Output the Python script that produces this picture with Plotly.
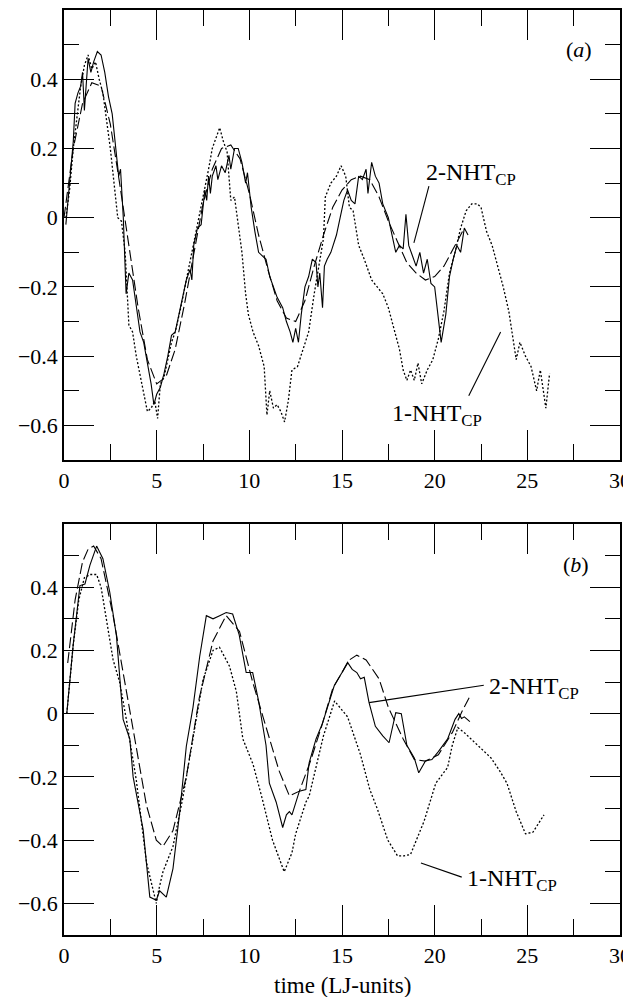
import plotly.graph_objects as go

# ---------------- panel (a) ----------------
a_solid_t = [0.1,0.3,0.5,0.6,0.75,0.9,1.0,1.1,1.3,1.45,1.6,1.8,2.0,2.2,2.4,2.6,2.8,2.95,3.05,3.2,3.35,3.5,3.7,3.9,4.1,4.3,4.5,4.7,4.85,5.0,5.2,5.4,5.6,5.8,6.0,6.2,6.4,6.6,6.8,6.9,7.0,7.2,7.4,7.6,7.7,7.8,7.9,8.0,8.2,8.3,8.5,8.7,8.9,9.0,9.2,9.4,9.6,9.8,9.9,10.1,10.3,10.5,10.7,10.9,11.1,11.3,11.5,11.8,12.0,12.2,12.35,12.5,12.65,12.8,13.0,13.2,13.4,13.6,13.7,13.8,13.95,14.05,14.2,14.4,14.7,14.9,15.1,15.3,15.5,15.7,15.9,16.1,16.3,16.4,16.6,16.8,17.0,17.2,17.5,17.7,17.9,18.1,18.3,18.45,18.6,18.8,19.0,19.2,19.4,19.6,19.8,20.0,20.2,20.35,20.6,20.8,21.0,21.2,21.4,21.6,21.8]
a_solid_v = [-0.02,0.1,0.22,0.33,0.36,0.38,0.42,0.31,0.46,0.42,0.45,0.48,0.47,0.42,0.35,0.3,0.2,0.12,0.14,0.0,-0.22,-0.16,-0.18,-0.26,-0.33,-0.36,-0.42,-0.48,-0.54,-0.51,-0.49,-0.45,-0.4,-0.34,-0.33,-0.28,-0.22,-0.18,-0.15,-0.18,-0.08,-0.03,-0.02,0.08,0.05,0.12,0.07,0.12,0.15,0.11,0.15,0.13,0.18,0.14,0.2,0.2,0.16,0.1,0.13,0.03,-0.04,-0.1,-0.11,-0.12,-0.17,-0.2,-0.23,-0.26,-0.3,-0.33,-0.36,-0.32,-0.36,-0.28,-0.2,-0.17,-0.12,-0.13,-0.2,-0.16,-0.26,-0.14,-0.12,-0.1,-0.05,0.0,0.05,0.08,0.05,0.04,0.12,0.11,0.14,0.07,0.16,0.12,0.1,0.04,0.0,-0.05,-0.1,-0.08,-0.09,0.01,-0.08,-0.11,-0.14,-0.1,-0.16,-0.12,-0.19,-0.2,-0.3,-0.36,-0.28,-0.17,-0.12,-0.08,-0.1,-0.03,-0.05]

a_dot_t = [0.1,0.3,0.5,0.7,0.9,1.1,1.3,1.5,1.7,1.9,2.1,2.3,2.5,2.7,2.9,3.1,3.3,3.5,3.7,3.9,4.1,4.3,4.5,4.7,4.9,5.05,5.2,5.4,5.6,5.8,6.0,6.3,6.6,6.9,7.2,7.5,7.8,8.0,8.2,8.4,8.6,8.8,9.0,9.2,9.4,9.6,9.8,9.95,10.2,10.5,10.8,10.95,11.1,11.3,11.5,11.7,11.9,12.1,12.3,12.6,12.9,13.2,13.5,13.8,14.0,14.1,14.4,14.7,14.95,15.2,15.4,15.6,15.9,16.2,16.6,16.9,17.2,17.5,17.8,18.1,18.3,18.5,18.7,18.9,19.1,19.3,19.6,19.9,20.2,20.5,20.8,21.1,21.4,21.7,22.0,22.3,22.5,22.8,23.1,23.4,23.7,24.0,24.2,24.4,24.6,24.9,25.2,25.5,25.7,26.0,26.2]
a_dot_v = [0.0,0.08,0.2,0.3,0.38,0.44,0.47,0.43,0.45,0.4,0.36,0.28,0.2,0.1,0.0,-0.01,-0.1,-0.31,-0.33,-0.4,-0.45,-0.5,-0.56,-0.55,-0.53,-0.58,-0.48,-0.46,-0.41,-0.36,-0.33,-0.26,-0.18,-0.1,-0.02,0.05,0.14,0.2,0.23,0.26,0.22,0.19,0.05,0.06,-0.02,-0.1,-0.22,-0.28,-0.33,-0.37,-0.43,-0.57,-0.5,-0.55,-0.54,-0.56,-0.59,-0.53,-0.44,-0.43,-0.38,-0.33,-0.22,-0.12,-0.06,0.06,0.1,0.12,0.15,0.12,0.03,0.02,-0.08,-0.12,-0.18,-0.2,-0.22,-0.26,-0.32,-0.38,-0.44,-0.47,-0.44,-0.47,-0.42,-0.48,-0.44,-0.41,-0.35,-0.27,-0.16,-0.1,-0.03,0.02,0.04,0.04,0.03,-0.04,-0.08,-0.14,-0.2,-0.27,-0.34,-0.41,-0.36,-0.4,-0.43,-0.5,-0.44,-0.55,-0.45]

a_dash_t = [0.0,0.5,1.0,1.5,2.0,2.5,3.0,3.5,4.0,4.5,5.0,5.5,6.0,6.5,7.0,7.5,8.0,8.5,9.0,9.5,10.0,10.5,11.0,11.5,12.0,12.5,13.0,13.5,14.0,14.5,15.0,15.5,16.0,16.5,17.0,17.5,18.0,18.5,19.0,19.5,20.0,20.5,21.0,21.5]
a_dash_v = [0.0,0.2,0.33,0.39,0.38,0.27,0.1,-0.08,-0.26,-0.41,-0.48,-0.46,-0.38,-0.25,-0.1,0.04,0.14,0.2,0.21,0.17,0.07,-0.05,-0.15,-0.24,-0.29,-0.3,-0.24,-0.14,-0.05,0.03,0.08,0.11,0.12,0.11,0.06,-0.01,-0.07,-0.13,-0.16,-0.18,-0.17,-0.14,-0.09,-0.04]

# ---------------- panel (b) ----------------
b_solid_t = [0.15,0.5,0.86,1.13,1.4,1.76,2.1,2.47,2.83,3.19,3.55,3.73,4.27,4.63,4.98,5.16,5.52,5.88,6.24,6.6,6.96,7.32,7.68,8.04,8.4,8.75,9.1,9.45,9.83,10.18,10.5,10.9,11.08,11.45,11.8,12.0,12.16,12.3,12.7,13.05,13.23,13.6,13.95,14.3,14.58,15.0,15.3,15.55,15.8,16.0,16.2,16.46,16.8,17.2,17.54,17.9,18.2,18.5,18.9,19.14,19.5,19.85,20.2,20.7,21.1,21.3,21.45,21.6,21.9]
b_solid_v = [0.0,0.22,0.405,0.41,0.47,0.53,0.49,0.384,0.246,-0.018,-0.08,-0.2,-0.367,-0.58,-0.59,-0.56,-0.58,-0.49,-0.314,-0.103,0.02,0.18,0.31,0.3,0.31,0.32,0.315,0.25,0.13,0.13,0.04,-0.1,-0.22,-0.28,-0.36,-0.32,-0.31,-0.32,-0.245,-0.24,-0.155,-0.08,-0.03,0.04,0.088,0.13,0.162,0.14,0.13,0.11,0.115,0.035,-0.04,-0.07,-0.092,0.003,0.0,-0.1,-0.14,-0.187,-0.15,-0.145,-0.12,-0.08,-0.018,0.0,-0.015,-0.01,-0.025]

b_dot_t = [0.15,0.5,0.8,1.1,1.4,1.76,2.0,2.3,2.65,3.0,3.37,3.9,4.45,4.98,5.1,5.34,5.88,6.4,6.96,7.5,8.04,8.39,8.93,9.3,9.65,10.2,10.7,11.25,11.88,12.3,12.5,13.05,13.23,13.6,14.0,14.6,15.3,16.0,16.5,16.9,17.47,18.0,18.35,18.7,19.43,20.06,20.7,20.95,21.25,21.6,22.06,22.4,23.04,23.5,23.9,24.4,24.9,25.3,25.9]
b_dot_v = [0.0,0.22,0.36,0.43,0.44,0.44,0.4,0.3,0.17,0.1,-0.02,-0.21,-0.47,-0.6,-0.56,-0.5,-0.42,-0.27,-0.08,0.107,0.2,0.21,0.15,0.07,-0.08,-0.16,-0.27,-0.4,-0.5,-0.44,-0.38,-0.28,-0.26,-0.17,-0.07,0.04,-0.01,-0.13,-0.24,-0.3,-0.4,-0.45,-0.45,-0.445,-0.34,-0.22,-0.17,-0.1,-0.044,-0.06,-0.086,-0.107,-0.14,-0.18,-0.22,-0.31,-0.38,-0.375,-0.32]

b_dash_t = [0.2,0.6,1.0,1.3,1.6,2.0,2.65,3.37,3.9,4.45,4.98,5.34,5.88,6.6,7.3,8.04,8.75,9.47,10.18,10.9,11.6,12.16,12.7,13.3,13.9,14.5,15.4,15.8,16.3,17.0,17.5,18.3,18.9,19.5,20.2,20.95,21.5,21.86]
b_dash_v = [0.16,0.36,0.48,0.52,0.53,0.49,0.31,0.07,-0.1,-0.29,-0.4,-0.42,-0.37,-0.2,0.05,0.23,0.31,0.26,0.1,-0.04,-0.18,-0.26,-0.245,-0.15,-0.04,0.08,0.17,0.185,0.17,0.11,0.02,-0.08,-0.145,-0.15,-0.13,-0.06,0.01,0.05]

x_ticks = [0, 5, 10, 15, 20, 25, 30]
x_minor = [2.5, 7.5, 12.5, 17.5, 22.5, 27.5]
y_ticks = [-0.6, -0.4, -0.2, 0, 0.2, 0.4]
y_labels = ["\u22120.6", "\u22120.4", "\u22120.2", "0", "0.2", "0.4"]
y_minor = [-0.5, -0.3, -0.1, 0.1, 0.3, 0.5]

FONT = "Liberation Serif"
LW = 1.1

fig = go.Figure()

def add_panel(xa, ya, st, sv, dt, dv, lt, lv):
    fig.add_trace(go.Scatter(x=lt, y=lv, mode="lines", xaxis=xa, yaxis=ya,
                             line=dict(color="black", width=LW, dash="11px,4px"), showlegend=False))
    fig.add_trace(go.Scatter(x=dt, y=dv, mode="lines", xaxis=xa, yaxis=ya,
                             line=dict(color="black", width=1.3, dash="2px,2px"), showlegend=False))
    fig.add_trace(go.Scatter(x=st, y=sv, mode="lines", xaxis=xa, yaxis=ya,
                             line=dict(color="black", width=LW), showlegend=False))

add_panel("x", "y", a_solid_t, a_solid_v, a_dot_t, a_dot_v, a_dash_t, a_dash_v)
add_panel("x2", "y2", b_solid_t, b_solid_v, b_dot_t, b_dot_v, b_dash_t, b_dash_v)

def xaxis_style(anchor):
    return dict(range=[0, 30], anchor=anchor, domain=[0, 1], tickmode="array", tickvals=x_ticks,
                ticks="inside", ticklen=30, tickwidth=1.2, tickcolor="black",
                minor=dict(tickmode="array", tickvals=x_minor, ticks="inside", ticklen=16,
                           tickwidth=1.2, tickcolor="black"),
                showline=True, linecolor="black", linewidth=1.6, mirror="ticks",
                showgrid=False, zeroline=False, ticklabeloverflow="allow",
                tickfont=dict(family=FONT, size=22, color="black"))

def yaxis_style(anchor, dom):
    return dict(range=[-0.7, 0.6], anchor=anchor, domain=dom, tickmode="array",
                tickvals=y_ticks, ticktext=y_labels,
                ticks="inside", ticklen=30, tickwidth=1.2, tickcolor="black",
                minor=dict(tickmode="array", tickvals=y_minor, ticks="inside", ticklen=15,
                           tickwidth=1.2, tickcolor="black"),
                showline=True, linecolor="black", linewidth=1.6, mirror="ticks",
                showgrid=False, zeroline=False,
                tickfont=dict(family=FONT, size=22, color="black"))

# the page places the figure 8 px from the window's top-left corner
fig.update_layout(
    width=623, height=989,
    margin=dict(l=56, r=10, t=0, b=62),
    plot_bgcolor="white", paper_bgcolor="white",
    xaxis=xaxis_style("y"),
    yaxis=yaxis_style("x", [0.5135, 1]),
    xaxis2=xaxis_style("y2"),
    yaxis2=yaxis_style("x2", [0, 0.4444]),
    showlegend=False,
)

def leader(xr, yr, x0, y0, x1, y1):
    fig.add_shape(type="line", xref=xr, yref=yr, x0=x0, y0=y0, x1=x1, y1=y1,
                  line=dict(color="black", width=1.1))

def label(xr, yr, x, y, text, size=24, xanchor="left"):
    fig.add_annotation(xref=xr, yref=yr, x=x, y=y, text=text, showarrow=False,
                       xanchor=xanchor, yanchor="middle",
                       font=dict(family=FONT, size=size, color="black"))

# panel (a)
leader("x", "y", 19.69, 0.091, 18.88, -0.073)
label("x", "y", 19.45, 0.125, "2-NHT<sub>CP</sub>")
leader("x", "y", 21.84, -0.514, 23.56, -0.33)
label("x", "y", 17.6, -0.57, "1-NHT<sub>CP</sub>")
label("x", "y", 28.6, 0.486, "(<i>a</i>)", size=22, xanchor="right")

# panel (b)
leader("x2", "y2", 22.65, 0.09, 16.46, 0.035)
label("x2", "y2", 22.8, 0.08, "2-NHT<sub>CP</sub>")
leader("x2", "y2", 21.46, -0.517, 19.26, -0.472)
label("x2", "y2", 21.65, -0.525, "1-NHT<sub>CP</sub>")
label("x2", "y2", 28.45, 0.471, "(<i>b</i>)", size=22, xanchor="right")

fig.add_annotation(xref="paper", yref="paper", x=0.5, y=-0.055, text="time (LJ-units)",
                   showarrow=False, xanchor="center", yanchor="middle",
                   font=dict(family=FONT, size=23, color="black"))

fig.write_html("out.html")
